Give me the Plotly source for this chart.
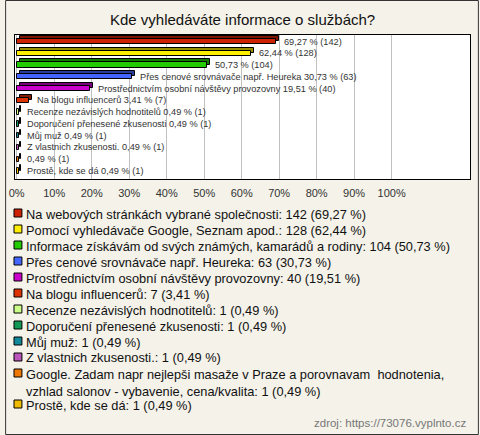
import plotly.graph_objects as go

# ---------------- data ----------------
title = "Kde vyhledáváte informace o službách?"
names = [
    "Na webových stránkách vybrané společnosti",
    "Pomocí vyhledávače Google, Seznam apod.",
    "Informace získávám od svých známých, kamarádů a rodiny",
    "Přes cenové srovnávače např. Heureka",
    "Prostřednictvím osobní návštěvy provozovny",
    "Na blogu influencerů",
    "Recenze nezávislých hodnotitelů",
    "Doporučení přenesené zkusenosti",
    "Můj muž",
    "Z vlastnich zkusenosti.",
    "Google. Zadam napr nejlepši masaže v Praze a porovnavam  hodnotenia,<br>vzhlad salonov - vybavenie, cena/kvalita",
    "Prostě, kde se dá",
]
bar_label_names = [
    "", "", "",
    "Přes cenové srovnávače např. Heureka",
    "Prostřednictvím osobní návštěvy provozovny",
    "Na blogu influencerů",
    "Recenze nezávislých hodnotitelů",
    "Doporučení přenesené zkusenosti",
    "Můj muž",
    "Z vlastnich zkusenosti.",
    "",
    "Prostě, kde se dá",
]
counts = [142, 128, 104, 63, 40, 7, 1, 1, 1, 1, 1, 1]
pcts = [69.27, 62.44, 50.73, 30.73, 19.51, 3.41, 0.49, 0.49, 0.49, 0.49, 0.49, 0.49]
colors = ["#cc2200", "#ffee00", "#22cc00", "#4466ff", "#cc00cc", "#dd3300",
          "#ccff88", "#119955", "#118899", "#bb55bb", "#ee7700", "#eebb00"]
tick_vals = [0, 10, 20, 30, 40, 50, 60, 70, 80, 90, 100]
tick_text = ["0%", "10%", "20%", "30%", "40%", "50%", "60%", "70%", "80%", "90%", "100%"]
source = "zdroj: https://73076.vyplnto.cz"

# ---------------- layout geometry ----------------
W, H = 480, 435
PL, PR, PT, PB = 10, 471, 35, 179
XR = [-0.45, 120.9]
YR = [11.68, -0.552]
px_per_unit_x = (PR - PL) / (XR[1] - XR[0])
px_per_unit_y = (PB - PT) / (YR[0] - YR[1])


def fx(px):
    return (px - PL) / (PR - PL)


def fy(py):
    return (PB - py) / (PB - PT)


def fmt(p):
    return f"{p:.2f}".replace(".", ",")


def darker(hexc, f=0.6):
    h = hexc.lstrip("#")
    r, g, b = (int(h[i:i + 2], 16) for i in (0, 2, 4))
    return f"rgb({int(r*f)},{int(g*f)},{int(b*f)})"


idx = list(range(len(names)))
bw = 0.45
depth_x = 3 / px_per_unit_x
depth_y = 3 / px_per_unit_y

fig = go.Figure()
# back (depth) face
fig.add_trace(go.Bar(
    y=idx, x=pcts, base=[depth_x] * len(idx), orientation="h",
    width=bw, offset=-bw / 2 - depth_y,
    marker=dict(color=[darker(c) for c in colors], line=dict(color="black", width=1)),
    showlegend=False, hoverinfo="skip",
))
# front face
fig.add_trace(go.Bar(
    y=idx, x=pcts, orientation="h", width=bw, offset=-bw / 2,
    marker=dict(color=colors, line=dict(color="black", width=1)),
    showlegend=False,
))

annotations = []
shapes = []
# bar value labels
for i, (p, c, n) in enumerate(zip(pcts, counts, bar_label_names)):
    txt = (n + " " if n else "") + f"{fmt(p)} % ({c})"
    annotations.append(dict(
        x=p, y=i, xref="x", yref="y", text=txt, showarrow=False,
        xanchor="left", yanchor="middle", xshift=6,
        font=dict(family="Liberation Sans, Arial, sans-serif", size=9.2, color="#333"),
    ))

# custom legend
ly = 213
for i, (n, c, p, col) in enumerate(zip(names, counts, pcts, colors)):
    shapes.append(dict(
        type="rect", xref="paper", yref="paper",
        x0=fx(9), x1=fx(17), y0=fy(ly - 4), y1=fy(ly + 4),
        fillcolor=col, line=dict(color="black", width=1),
    ))
    lines = n.count("<br>") + 1
    annotations.append(dict(
        x=fx(19), y=fy(ly - 8.5), xref="paper", yref="paper",
        text=f"{n}: {c} ({fmt(p)} %)", showarrow=False, align="left",
        xanchor="left", yanchor="top",
        font=dict(family="Liberation Sans, Arial, sans-serif", size=12.8, color="#111"),
    ))
    ly += 16 + (lines - 1) * 15

# title
annotations.append(dict(
    x=fx(240), y=fy(20), xref="paper", yref="paper", text=title, showarrow=False,
    xanchor="center", yanchor="middle",
    font=dict(family="Liberation Sans, Arial, sans-serif", size=15, color="#111"),
))
# source
annotations.append(dict(
    x=fx(469), y=fy(423), xref="paper", yref="paper", text=source, showarrow=False,
    xanchor="right", yanchor="middle",
    font=dict(family="Liberation Sans, Arial, sans-serif", size=11.5, color="#777"),
))
# outer border
shapes.append(dict(
    type="rect", xref="paper", yref="paper",
    x0=fx(0.5), x1=fx(479.5), y0=fy(0.5), y1=fy(434.5),
    line=dict(color="#333", width=1), fillcolor="rgba(0,0,0,0)", layer="above",
))

fig.update_layout(
    width=W, height=H,
    margin=dict(l=PL, r=W - PR, t=PT, b=H - PB, pad=0),
    paper_bgcolor="#f4f2e9", plot_bgcolor="white",
    barmode="overlay", bargap=0,
    annotations=annotations, shapes=shapes,
    font=dict(family="Liberation Sans, Arial, sans-serif"),
    xaxis=dict(
        range=XR, tickvals=tick_vals, ticktext=tick_text,
        showgrid=True, gridcolor="#c0c0c0", gridwidth=1, zeroline=False,
        showline=True, mirror=True, linecolor="black", linewidth=1,
        ticks="outside", ticklen=4, tickcolor="rgba(0,0,0,0)",
        tickfont=dict(size=11, color="#333"), fixedrange=True,
    ),
    yaxis=dict(
        range=YR, showticklabels=False, showgrid=False, zeroline=False,
        showline=True, mirror=True, linecolor="black", linewidth=1,
        fixedrange=True,
    ),
)

fig.write_html(
    "out.html",
    config={"displayModeBar": False},
    post_script="document.body.style.margin='0px';document.body.style.overflow='hidden';",
)
